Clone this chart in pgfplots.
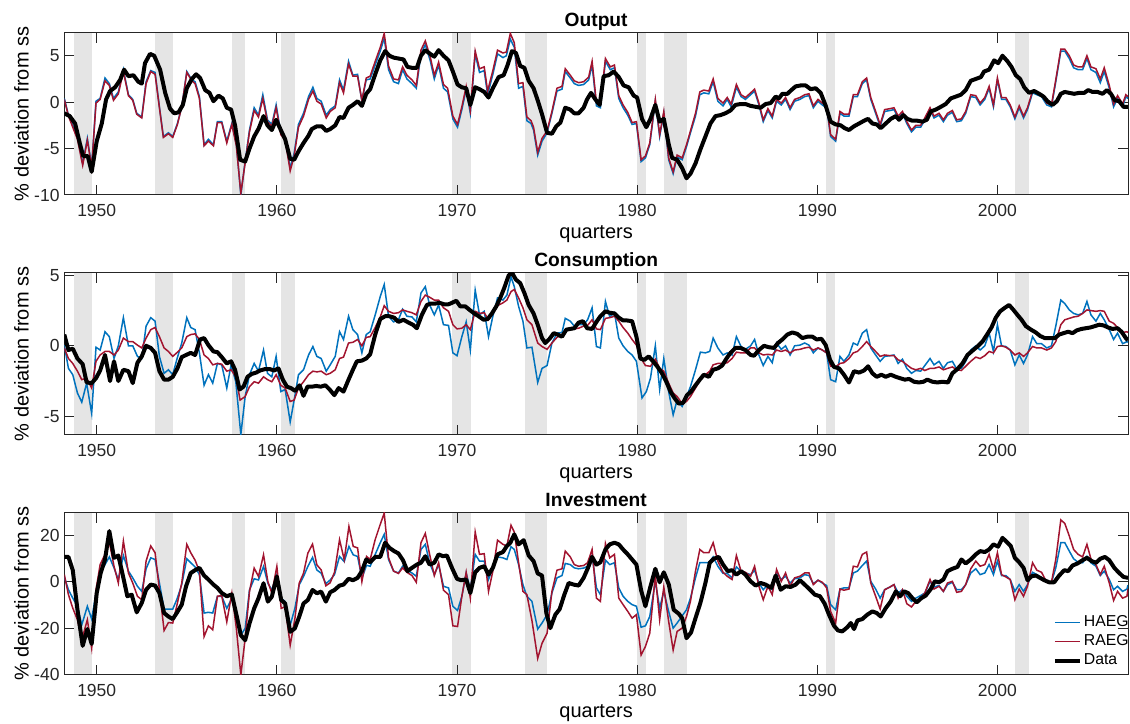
\documentclass[border=0pt]{standalone}
\usepackage{fontspec}
\setmainfont{Liberation Sans}
\usepackage{pgfplots}
\pgfplotsset{compat=1.18}

\definecolor{haeg}{rgb}{0,0.447,0.741}
\definecolor{raeg}{rgb}{0.635,0.078,0.184}
\definecolor{bandgray}{rgb}{0.9,0.9,0.9}
\definecolor{axgray}{rgb}{0.15,0.15,0.15}

% NBER recessions as grey bands, behind the lines
\newcommand{\recessions}[2]{%
  \begin{pgfonlayer}{axis background}
  \fill[bandgray] (axis cs:1948.75,#1) rectangle (axis cs:1949.75,#2);
  \fill[bandgray] (axis cs:1953.25,#1) rectangle (axis cs:1954.25,#2);
  \fill[bandgray] (axis cs:1957.5,#1) rectangle (axis cs:1958.25,#2);
  \fill[bandgray] (axis cs:1960.25,#1) rectangle (axis cs:1961,#2);
  \fill[bandgray] (axis cs:1969.75,#1) rectangle (axis cs:1970.75,#2);
  \fill[bandgray] (axis cs:1973.75,#1) rectangle (axis cs:1975,#2);
  \fill[bandgray] (axis cs:1980,#1) rectangle (axis cs:1980.5,#2);
  \fill[bandgray] (axis cs:1981.5,#1) rectangle (axis cs:1982.75,#2);
  \fill[bandgray] (axis cs:1990.5,#1) rectangle (axis cs:1991,#2);
  \fill[bandgray] (axis cs:2001,#1) rectangle (axis cs:2001.75,#2);
  \end{pgfonlayer}
}

\pgfplotsset{
  panel/.style={
    set layers,
    scale only axis, width=531.85pt, height=81pt, anchor=south west,
    xmin=1948.2, xmax=2007.25,
    xtick={1950,1960,1970,1980,1990,2000},
    xticklabels={1950,1960,1970,1980,1990,2000},
    tick align=inside, major tick length=5pt,
    axis line style={axgray, line width=0.5pt},
    every tick/.style={axgray, line width=0.5pt},
    tick label style={font=\fontsize{8.75}{10}\selectfont, text=axgray},
    xticklabel style={anchor=base, inner sep=0pt, yshift=-10.8pt},
    yticklabel style={anchor=east, inner sep=0pt, xshift=-2.2pt},
    label style={font=\fontsize{9.6}{11}\selectfont, text=axgray},
    every axis x label/.style={at={(axis description cs:0.5,0)}, anchor=base, yshift=-21.6pt},
    every axis y label/.style={at={(axis description cs:-0.0402,0.5)}, rotate=90, anchor=center},
    every axis title/.style={at={(axis description cs:0.5,1)}, anchor=base, yshift=3pt,
      font=\bfseries\fontsize{9.6}{11}\selectfont},
    xlabel={quarters}, ylabel={\% deviation from ss},
  },
  hline/.style={color=haeg, line width=0.75pt},
  rline/.style={color=raeg, line width=0.75pt},
  dline/.style={color=black, line width=2pt, line join=round},
}

\begin{document}
\begin{tikzpicture}

%% ---------------- Output ----------------
\begin{axis}[panel, at={(32.15pt,264pt)}, title={Output},
  ymin=-10, ymax=7.45, ytick={-10,-5,0,5}, yticklabels={-10,-5,0,5}]
\recessions{-10}{7.45}
\addplot[hline] coordinates {
(1948.2,0.4) (1948.43,-1.4) (1948.67,-2.5) (1948.93,-3.8) (1949.22,-6.6) (1949.48,-3.9) (1949.72,-6.9) (1949.96,0.1)
(1950.19,0.4) (1950.46,2.6) (1950.7,2.0) (1950.93,0.4) (1951.2,1.1) (1951.48,3.5) (1951.76,0.8) (1952.0,0.3)
(1952.22,-1.2) (1952.5,-1.6) (1952.74,2.2) (1953.0,3.4) (1953.24,3.2) (1953.48,-0.5) (1953.7,-3.7) (1953.98,-3.3)
(1954.22,-3.7) (1954.48,-2.3) (1954.72,-0.5) (1955.0,3.3) (1955.28,2.4) (1955.46,2.2) (1955.7,0.6) (1955.96,-4.6)
(1956.2,-4.0) (1956.48,-4.6) (1956.7,-2.1) (1956.94,-2.1) (1957.22,-4.2) (1957.5,-2.3) (1957.75,-4.5) (1958.0,-10.0)
(1958.25,-6.2) (1958.48,-3.0) (1958.74,-0.6) (1958.98,-1.4) (1959.22,0.8) (1959.48,-1.9) (1959.72,-2.4) (1959.96,-0.3)
(1960.22,-3.3) (1960.46,-3.9) (1960.74,-7.1) (1960.96,-5.5) (1961.2,-2.4) (1961.48,-1.2) (1961.76,0.6) (1962.0,1.6)
(1962.22,0.4) (1962.46,0.1) (1962.74,-1.4) (1962.96,-0.8) (1963.24,-0.4) (1963.48,2.4) (1963.7,1.3) (1963.98,4.4)
(1964.22,2.9) (1964.48,3.0) (1964.72,0.1) (1964.96,2.4)
(1965.18,2.5) (1965.46,4.0) (1965.74,5.5) (1965.96,6.9) (1966.2,3.5) (1966.48,2.2) (1966.75,2.0) (1966.98,3.5)
(1967.22,2.5) (1967.5,2.0) (1967.74,1.5) (1968.0,5.2) (1968.24,6.2) (1968.51,4.5) (1968.74,2.5) (1968.98,4.0)
(1969.25,1.5) (1969.48,1.1) (1969.77,-1.8) (1970.03,-2.7) (1970.27,-0.8) (1970.51,1.4) (1970.74,-1.2) (1971.01,5.2)
(1971.25,3.2) (1971.51,3.4) (1971.7,0.8) (1971.99,3.0) (1972.25,5.2) (1972.55,4.8) (1972.74,5.0) (1972.96,6.8)
(1973.18,5.9) (1973.42,1.5) (1973.66,1.7) (1973.88,-2.0) (1974.11,-2.3) (1974.25,-3.0) (1974.48,-5.7) (1974.72,-4.2)
(1975.0,-3.3) (1975.27,-1.2) (1975.55,1.2) (1975.83,1.4) (1976.01,3.3) (1976.29,2.6) (1976.51,2.0) (1976.75,1.8)
(1977.03,1.9) (1977.31,2.4) (1977.5,4.0) (1977.74,-0.4) (1977.96,-0.6) (1978.24,4.4) (1978.51,3.5) (1978.74,3.7)
(1978.98,0.4) (1979.22,-0.6) (1979.48,-1.4) (1979.72,-2.4) (1979.96,-2.3) (1980.22,-6.4) (1980.46,-6.0) (1980.7,-4.6)
(1981.01,0.1) (1981.25,-3.7) (1981.48,-1.2) (1981.75,-6.2) (1982.0,-7.7) (1982.22,-5.9) (1982.5,-6.2) (1982.74,-4.8)
(1982.96,-3.3) (1983.24,-1.5) (1983.48,0.8) (1983.7,1.0) (1983.98,0.9) (1984.22,2.2) (1984.48,0.1) (1984.77,-0.4)
(1985.0,0.3) (1985.22,-0.5) (1985.51,1.6) (1985.77,0.6) (1986.01,0.3)
(1986.3,0.8) (1986.52,1.2) (1986.76,-0.3) (1987.0,-2.1) (1987.26,-0.9) (1987.5,-1.7) (1987.74,0.1) (1988.0,-0.3)
(1988.24,0.3) (1988.49,-0.8) (1988.74,0.1) (1989.04,0.3) (1989.3,0.6) (1989.54,0.7) (1989.78,-0.6) (1990.04,0.1)
(1990.28,-0.3) (1990.52,-0.6) (1990.74,-3.7) (1991.02,-4.2) (1991.26,-1.2) (1991.48,-1.5) (1991.76,-1.5) (1992.0,0.6)
(1992.23,0.6) (1992.5,2.0) (1992.74,2.4) (1992.97,0.3) (1993.24,-1.2) (1993.49,-2.6) (1993.74,-1.0) (1994.04,-0.9)
(1994.26,-0.8) (1994.49,-1.7) (1994.73,-1.2) (1994.97,-2.3) (1995.23,-3.2) (1995.47,-2.7) (1995.74,-2.7) (1995.97,-1.9)
(1996.26,-0.8) (1996.48,-1.7) (1996.76,-1.4) (1997.0,-2.1) (1997.23,-1.4) (1997.5,-1.1) (1997.74,-2.1) (1998.0,-2.0)
(1998.24,-1.2) (1998.52,0.6) (1998.8,0.5) (1999.04,-0.3) (1999.3,0.3) (1999.54,1.5) (1999.78,-0.5) (2000.0,2.4)
(2000.23,0.3) (2000.47,0.3) (2000.71,-0.5) (2000.97,-1.8) (2001.21,-0.6) (2001.45,-1.7) (2001.67,-0.8) (2001.95,1.0)
(2002.19,0.8) (2002.45,0.6) (2002.74,-0.3) (2003.0,-0.5) (2003.24,2.2) (2003.52,5.5) (2003.74,5.5) (2003.99,4.7)
(2004.23,3.7) (2004.48,3.5) (2004.73,3.5) (2004.97,4.7) (2005.19,3.5) (2005.47,3.2) (2005.71,2.1) (2005.93,3.3)
(2006.21,1.5) (2006.45,-0.5) (2006.67,0.4) (2006.95,-0.5) (2007.13,0.6) (2007.25,0.4)
};
\addplot[rline] coordinates {
(1948.2,0.3) (1948.43,-1.5) (1948.67,-2.7) (1948.93,-4.0) (1949.22,-6.8) (1949.48,-4.1) (1949.72,-7.0) (1949.96,-0.1)
(1950.19,0.3) (1950.46,2.3) (1950.7,1.8) (1950.93,0.2) (1951.2,0.9) (1951.48,3.3) (1951.76,0.7) (1952.0,0.2)
(1952.22,-1.3) (1952.5,-1.7) (1952.74,2.0) (1953.0,3.3) (1953.24,3.0) (1953.48,-0.6) (1953.7,-3.8) (1953.98,-3.4)
(1954.22,-3.8) (1954.48,-2.4) (1954.72,-0.5) (1955.0,3.2) (1955.28,2.3) (1955.46,2.0) (1955.7,0.4) (1955.96,-4.7)
(1956.2,-4.2) (1956.48,-4.7) (1956.7,-2.2) (1956.94,-2.2) (1957.22,-4.4) (1957.5,-2.4) (1957.75,-4.7) (1958.0,-9.8)
(1958.25,-6.4) (1958.48,-3.2) (1958.74,-0.9) (1958.98,-1.6) (1959.22,0.4) (1959.48,-2.1) (1959.72,-2.6) (1959.96,-0.6)
(1960.22,-3.5) (1960.46,-4.1) (1960.74,-7.4) (1960.96,-5.8) (1961.2,-2.7) (1961.48,-1.5) (1961.76,0.3) (1962.0,1.2)
(1962.22,0.1) (1962.46,-0.2) (1962.74,-1.7) (1962.96,-1.0) (1963.24,-0.6) (1963.48,2.1) (1963.7,1.0) (1963.98,4.1)
(1964.22,2.8) (1964.48,2.8) (1964.72,0.2) (1964.96,2.6)
(1965.18,2.8) (1965.46,4.4) (1965.74,5.9) (1965.96,7.4) (1966.2,3.9) (1966.48,2.5) (1966.75,2.4) (1966.98,3.8)
(1967.22,2.9) (1967.5,2.4) (1967.74,1.8) (1968.0,5.6) (1968.24,6.6) (1968.51,4.9) (1968.74,2.9) (1968.98,4.3)
(1969.25,1.9) (1969.48,1.5) (1969.77,-1.5) (1970.03,-2.4) (1970.27,-0.5) (1970.51,1.7) (1970.74,-0.9) (1971.01,5.5)
(1971.25,3.6) (1971.51,3.8) (1971.7,1.2) (1971.99,3.4) (1972.25,5.6) (1972.55,5.3) (1972.74,5.4) (1972.96,7.4)
(1973.18,6.4) (1973.42,2.0) (1973.66,2.1) (1973.88,-1.6) (1974.11,-2.0) (1974.25,-2.7) (1974.48,-5.4) (1974.72,-3.9)
(1975.0,-3.1) (1975.27,-1.0) (1975.55,1.5) (1975.83,1.7) (1976.01,3.6) (1976.29,2.9) (1976.51,2.3) (1976.75,2.1)
(1977.03,2.2) (1977.31,2.7) (1977.5,4.4) (1977.74,-0.1) (1977.96,-0.3) (1978.24,4.7) (1978.51,3.8) (1978.74,4.0)
(1978.98,0.7) (1979.22,-0.3) (1979.48,-1.1) (1979.72,-2.2) (1979.96,-2.1) (1980.22,-6.2) (1980.46,-5.8) (1980.7,-4.4)
(1981.01,0.3) (1981.25,-3.5) (1981.48,-1.0) (1981.75,-6.0) (1982.0,-7.5) (1982.22,-5.7) (1982.5,-6.0) (1982.74,-4.6)
(1982.96,-3.1) (1983.24,-1.2) (1983.48,1.1) (1983.7,1.3) (1983.98,1.2) (1984.22,2.5) (1984.48,0.4) (1984.77,-0.1)
(1985.0,0.5) (1985.22,-0.2) (1985.51,1.9) (1985.77,0.8) (1986.01,0.5)
(1986.3,1.0) (1986.52,1.4) (1986.76,-0.1) (1987.0,-1.9) (1987.26,-0.7) (1987.5,-1.5) (1987.74,0.3) (1988.0,-0.1)
(1988.24,0.5) (1988.49,-0.6) (1988.74,0.3) (1989.04,0.5) (1989.3,0.8) (1989.54,0.9) (1989.78,-0.4) (1990.04,0.3)
(1990.28,-0.1) (1990.52,-0.4) (1990.74,-3.5) (1991.02,-4.0) (1991.26,-1.0) (1991.48,-1.3) (1991.76,-1.3) (1992.0,0.8)
(1992.23,0.8) (1992.5,2.2) (1992.74,2.6) (1992.97,0.5) (1993.24,-1.0) (1993.49,-2.4) (1993.74,-0.8) (1994.04,-0.7)
(1994.26,-0.6) (1994.49,-1.5) (1994.73,-1.0) (1994.97,-2.1) (1995.23,-3.0) (1995.47,-2.5) (1995.74,-2.5) (1995.97,-1.7)
(1996.26,-0.6) (1996.48,-1.5) (1996.76,-1.2) (1997.0,-1.9) (1997.23,-1.2) (1997.5,-0.9) (1997.74,-1.9) (1998.0,-1.8)
(1998.24,-1.0) (1998.52,0.8) (1998.8,0.7) (1999.04,-0.1) (1999.3,0.5) (1999.54,1.7) (1999.78,-0.3) (2000.0,2.6)
(2000.23,0.5) (2000.47,0.5) (2000.71,-0.3) (2000.97,-1.6) (2001.21,-0.4) (2001.45,-1.5) (2001.67,-0.6) (2001.95,1.2)
(2002.19,1.0) (2002.45,0.8) (2002.74,-0.1) (2003.0,-0.3) (2003.24,2.4) (2003.52,5.7) (2003.74,5.7) (2003.99,5.0)
(2004.23,4.0) (2004.48,3.8) (2004.73,3.8) (2004.97,5.0) (2005.19,3.8) (2005.47,3.6) (2005.71,2.5) (2005.93,3.7)
(2006.21,1.8) (2006.45,-0.2) (2006.67,0.7) (2006.95,-0.2) (2007.13,0.8) (2007.25,0.6)
};
\addplot[dline] coordinates {
(1948.2,-1.2) (1948.5,-1.5) (1948.8,-2.3) (1949.07,-4.5) (1949.25,-5.8) (1949.5,-5.8) (1949.72,-7.5) (1950.0,-4.2)
(1950.28,-2.3) (1950.52,0.3) (1950.74,1.2) (1951.02,1.6) (1951.3,2.4) (1951.52,3.5) (1951.76,2.8) (1952.04,2.9)
(1952.31,2.2) (1952.5,2.0) (1952.68,4.2) (1952.96,5.2) (1953.19,5.0) (1953.52,3.5) (1953.8,1.0) (1954.07,-0.7)
(1954.3,-1.2) (1954.54,-1.1) (1954.78,-0.3) (1955.0,1.5) (1955.28,2.5) (1955.52,3.0) (1955.74,2.6) (1956.02,1.3)
(1956.26,1.0) (1956.48,0.1) (1956.76,0.7) (1957.0,0.4) (1957.22,-0.6) (1957.46,-0.8) (1957.68,-2.5) (1957.96,-6.2)
(1958.24,-6.4) (1958.48,-5.0) (1958.74,-3.7) (1959.0,-2.8) (1959.26,-1.5) (1959.48,-2.5) (1959.72,-3.0) (1959.96,-1.9)
(1960.22,-3.0) (1960.46,-4.0) (1960.74,-6.1) (1960.96,-6.2) (1961.2,-5.3) (1961.48,-4.4) (1961.76,-3.6) (1961.94,-2.9)
(1962.22,-2.6) (1962.5,-2.6) (1962.74,-3.1) (1962.96,-2.9) (1963.24,-2.5) (1963.48,-1.6) (1963.7,-1.7) (1963.98,-0.6)
(1964.22,-0.3) (1964.48,0.1) (1964.72,-0.4) (1964.96,0.9)
(1965.18,1.4) (1965.46,3.0) (1965.74,4.5) (1966.01,5.5) (1966.25,5.0) (1966.48,4.8) (1966.75,4.7) (1967.03,4.6)
(1967.25,3.8) (1967.5,3.7) (1967.77,3.7) (1968.0,5.0) (1968.24,5.6) (1968.51,5.2) (1968.74,4.9) (1968.98,5.6)
(1969.25,5.0) (1969.53,4.5) (1969.77,3.3) (1970.03,1.9) (1970.27,1.6) (1970.51,1.5) (1970.74,-0.3) (1971.01,1.6)
(1971.25,1.4) (1971.51,1.1) (1971.75,0.5) (1971.99,1.5) (1972.31,2.7) (1972.59,2.9) (1972.81,4.0) (1973.05,5.5)
(1973.27,5.3) (1973.51,3.9) (1973.74,3.7) (1973.98,2.3) (1974.25,1.5) (1974.48,0.2) (1974.72,-1.3) (1975.0,-3.3)
(1975.27,-3.4) (1975.51,-2.6) (1975.74,-2.2) (1976.01,-0.6) (1976.29,-0.8) (1976.51,-1.2) (1976.75,-1.2) (1977.03,-0.6)
(1977.22,0.3) (1977.44,1.0) (1977.68,0.3) (1977.92,-0.3) (1978.14,2.8) (1978.42,2.9) (1978.7,3.3) (1978.98,2.7)
(1979.25,1.8) (1979.53,1.6) (1979.81,0.7) (1980.0,0.5) (1980.27,-1.8) (1980.51,-2.7) (1980.74,-1.8) (1981.01,-0.3)
(1981.25,-2.1) (1981.48,-1.8) (1981.75,-4.5) (1981.94,-6.0) (1982.22,-6.2) (1982.5,-7.1) (1982.74,-8.2) (1982.96,-7.7)
(1983.24,-6.6) (1983.51,-5.1) (1983.79,-3.7) (1984.07,-2.3) (1984.35,-1.5) (1984.62,-1.4) (1984.9,-1.2) (1985.18,-0.9)
(1985.46,-0.3) (1985.74,-0.2) (1986.01,-0.2)
(1986.3,-0.4) (1986.58,-0.5) (1986.86,-0.6) (1987.13,-0.2) (1987.41,-0.1) (1987.69,0.6) (1987.87,0.4) (1988.06,0.9)
(1988.34,0.9) (1988.56,1.3) (1988.8,1.7) (1989.08,1.8) (1989.36,1.8) (1989.63,1.4) (1989.91,1.5) (1990.19,1.0)
(1990.47,-0.4) (1990.74,-2.1) (1991.02,-2.4) (1991.3,-2.5) (1991.52,-2.8) (1991.76,-3.0) (1992.04,-2.6) (1992.32,-2.3)
(1992.6,-2.0) (1992.82,-1.8) (1993.06,-2.3) (1993.3,-2.4) (1993.52,-2.8) (1993.8,-2.3) (1994.08,-1.8) (1994.36,-1.5)
(1994.54,-1.9) (1994.78,-1.4) (1995.0,-1.8) (1995.28,-2.0) (1995.56,-2.0) (1995.84,-2.1) (1996.08,-1.9) (1996.3,-1.0)
(1996.58,-0.8) (1996.86,-0.5) (1997.13,-0.2) (1997.41,0.4) (1997.69,0.6) (1997.97,0.8) (1998.24,1.3) (1998.52,2.3)
(1998.8,2.5) (1999.08,2.7) (1999.26,3.3) (1999.54,3.5) (1999.82,4.5) (2000.04,4.2) (2000.28,5.0) (2000.56,4.4)
(2000.78,3.8) (2001.02,2.9) (2001.26,2.5) (2001.49,1.6) (2001.76,1.0) (2002.04,1.2) (2002.32,0.9) (2002.56,0.6)
(2002.78,0.1) (2003.06,-0.3) (2003.3,0.1) (2003.52,0.9) (2003.74,1.1) (2003.99,1.0) (2004.26,0.9) (2004.54,1.0)
(2004.82,1.0) (2005.04,1.3) (2005.28,1.1) (2005.56,1.1) (2005.84,0.9) (2006.08,1.3) (2006.3,0.9) (2006.52,0.2)
(2006.76,0.1) (2007.0,-0.5) (2007.25,-0.5)
};
\end{axis}

%% ---------------- Consumption ----------------
\begin{axis}[panel, at={(32.15pt,144pt)}, title={Consumption},
  ymin=-6.33, ymax=5.17, ytick={-5,0,5}, yticklabels={-5,0,5}]
\recessions{-6.33}{5.17}
\addplot[hline] coordinates {
(1948.2,0.05) (1948.43,-1.6) (1948.67,-2.05) (1948.93,-3.35) (1949.17,-4.0) (1949.44,-2.65) (1949.72,-4.8) (1949.96,-0.1)
(1950.19,-0.3) (1950.46,1.0) (1950.7,0.65) (1950.96,-0.9) (1951.2,0.0) (1951.48,2.0) (1951.76,0.0) (1952.0,0.0)
(1952.26,-0.75) (1952.5,-0.9) (1952.74,1.4) (1953.0,2.0) (1953.24,1.75) (1953.48,-0.75) (1953.74,-1.95) (1953.98,-1.7)
(1954.22,-2.05) (1954.44,-1.0) (1954.72,0.2) (1955.0,2.0) (1955.22,1.3) (1955.46,1.15) (1955.7,-0.5) (1955.96,-2.8)
(1956.2,-2.05) (1956.44,-2.65) (1956.7,-1.25) (1956.94,-1.35) (1957.22,-3.0) (1957.46,-1.35) (1957.72,-2.55) (1958.0,-6.3)
(1958.24,-3.6) (1958.48,-2.05) (1958.74,-1.25) (1958.98,-1.8) (1959.26,-0.3) (1959.48,-1.95) (1959.72,-2.2) (1959.96,-0.75)
(1960.22,-3.25) (1960.46,-3.1) (1960.74,-5.4) (1960.96,-3.85) (1961.2,-2.05) (1961.48,-1.7) (1961.76,-0.65) (1962.0,-0.05)
(1962.22,-0.75) (1962.46,-0.9) (1962.74,-1.8) (1962.96,-1.35) (1963.24,-0.75) (1963.48,1.0) (1963.7,0.45) (1963.98,2.1)
(1964.22,1.15) (1964.48,0.8) (1964.72,-0.5) (1964.96,0.8)
(1965.18,1.0) (1965.46,2.2) (1965.74,3.5) (1965.96,4.35) (1966.2,2.1) (1966.48,1.7) (1966.75,1.85) (1966.98,2.6)
(1967.22,2.1) (1967.5,2.05) (1967.74,1.7) (1968.0,3.75) (1968.24,4.2) (1968.48,2.9) (1968.74,2.2) (1968.98,2.9)
(1969.25,1.5) (1969.53,1.45) (1969.77,-0.5) (1970.0,-0.7) (1970.27,0.65) (1970.51,1.7) (1970.74,-0.3) (1971.01,3.95)
(1971.25,2.2) (1971.51,2.45) (1971.75,0.65) (1971.99,2.1) (1972.25,3.4) (1972.55,3.25) (1972.77,3.6) (1973.0,4.9)
(1973.18,4.2) (1973.42,2.8) (1973.66,1.75) (1973.88,-0.15) (1974.16,-0.1) (1974.48,-2.6) (1974.72,-1.6) (1975.0,-1.4)
(1975.27,0.2) (1975.55,0.9) (1975.83,0.95) (1976.01,1.95) (1976.29,1.75) (1976.51,1.4) (1976.75,1.5) (1977.03,1.5)
(1977.25,1.85) (1977.5,2.7) (1977.74,-0.05) (1977.96,-0.15) (1978.24,3.15) (1978.48,2.05) (1978.74,2.35) (1978.98,0.55)
(1979.22,0.0) (1979.48,-0.4) (1979.72,-0.65) (1979.96,-1.1) (1980.27,-3.7) (1980.51,-3.25) (1980.74,-2.3) (1981.01,0.0)
(1981.25,-3.1) (1981.48,-0.9) (1981.75,-3.25) (1982.0,-4.9) (1982.22,-3.85) (1982.5,-4.3) (1982.74,-3.6) (1982.96,-2.9)
(1983.24,-1.7) (1983.51,-0.45) (1983.79,-0.5) (1984.03,-0.4) (1984.22,0.55) (1984.48,-0.15) (1984.77,-0.65) (1985.0,-0.5)
(1985.27,-0.65) (1985.51,0.65) (1985.77,-0.05) (1986.01,-0.25)
(1986.3,0.0) (1986.52,0.45) (1986.76,-0.65) (1987.0,-1.4) (1987.26,-0.75) (1987.5,-1.2) (1987.74,0.2) (1988.0,-0.25)
(1988.24,0.0) (1988.49,-0.65) (1988.74,0.0) (1989.04,0.05) (1989.3,0.2) (1989.54,0.05) (1989.78,-0.5) (1990.04,-0.15)
(1990.28,-0.3) (1990.52,-0.5) (1990.74,-2.4) (1991.02,-2.55) (1991.26,-0.75) (1991.48,-1.1) (1991.76,-0.65) (1992.0,0.2)
(1992.23,0.05) (1992.5,0.9) (1992.74,1.15) (1992.97,-0.15) (1993.24,-0.65) (1993.49,-1.1) (1993.74,-0.75) (1994.04,-0.7)
(1994.26,-0.65) (1994.49,-1.25) (1994.73,-0.95) (1994.97,-1.6) (1995.23,-1.95) (1995.47,-1.75) (1995.74,-1.8) (1995.97,-1.4)
(1996.26,-0.9) (1996.48,-1.35) (1996.76,-1.1) (1997.0,-1.6) (1997.23,-1.2) (1997.5,-1.1) (1997.74,-1.65) (1998.0,-1.6)
(1998.24,-1.1) (1998.52,-0.3) (1998.8,0.0) (1999.04,-0.3) (1999.3,0.0) (1999.54,0.9) (1999.78,-0.4) (2000.0,1.5)
(2000.23,0.0) (2000.47,-0.05) (2000.71,-0.3) (2000.97,-1.35) (2001.21,-0.65) (2001.45,-1.25) (2001.67,-0.65) (2001.95,0.65)
(2002.19,0.15) (2002.45,0.15) (2002.74,-0.15) (2003.0,0.0) (2003.24,1.4) (2003.52,3.25) (2003.74,3.0) (2003.99,2.55)
(2004.23,2.3) (2004.48,2.2) (2004.73,2.3) (2004.97,3.15) (2005.19,2.2) (2005.47,1.75) (2005.71,2.3) (2005.93,1.85)
(2006.21,1.15) (2006.45,0.45) (2006.67,0.9) (2006.95,0.15) (2007.19,0.3) (2007.25,0.25)
};
\addplot[rline] coordinates {
(1948.2,-0.15) (1948.43,-0.9) (1948.67,-1.25) (1948.93,-1.8) (1949.17,-2.4) (1949.44,-2.3) (1949.72,-3.0) (1949.96,-1.1)
(1950.19,-0.65) (1950.46,-0.4) (1950.7,-0.4) (1950.96,-0.65) (1951.2,-0.3) (1951.48,0.55) (1951.76,0.3) (1952.0,0.3)
(1952.26,0.05) (1952.5,-0.15) (1952.74,0.55) (1953.0,1.15) (1953.24,1.3) (1953.48,0.65) (1953.74,-0.15) (1953.98,-0.4)
(1954.22,-0.75) (1954.44,-0.5) (1954.72,-0.15) (1955.0,0.65) (1955.22,0.8) (1955.46,0.85) (1955.7,0.45) (1955.96,-0.65)
(1956.2,-0.9) (1956.44,-1.35) (1956.7,-1.25) (1956.94,-1.3) (1957.22,-1.8) (1957.46,-1.7) (1957.72,-2.2) (1957.96,-3.85)
(1958.24,-3.6) (1958.48,-2.9) (1958.74,-2.55) (1958.98,-2.65) (1959.26,-2.2) (1959.48,-2.4) (1959.72,-2.55) (1959.96,-2.05)
(1960.22,-2.8) (1960.46,-3.0) (1960.74,-3.95) (1960.96,-3.85) (1961.2,-3.0) (1961.48,-2.55) (1961.76,-2.05) (1962.0,-1.8)
(1962.22,-1.85) (1962.46,-1.8) (1962.74,-2.05) (1962.96,-1.95) (1963.24,-1.7) (1963.48,-0.9) (1963.7,-0.8) (1963.98,0.2)
(1964.22,0.25) (1964.48,0.45) (1964.72,0.0) (1964.96,0.6)
(1965.18,0.65) (1965.46,1.3) (1965.74,2.05) (1965.96,2.85) (1966.2,2.45) (1966.48,2.3) (1966.75,2.35) (1966.98,2.55)
(1967.22,2.45) (1967.5,2.35) (1967.74,2.2) (1968.0,3.15) (1968.24,3.6) (1968.48,3.45) (1968.74,3.25) (1968.98,3.25)
(1969.25,2.7) (1969.53,2.45) (1969.77,1.5) (1970.0,1.2) (1970.27,1.25) (1970.51,1.5) (1970.74,1.15) (1971.01,2.45)
(1971.25,2.3) (1971.51,2.35) (1971.75,1.85) (1971.99,2.3) (1972.25,2.85) (1972.55,3.05) (1972.77,3.25) (1973.0,3.85)
(1973.18,4.0) (1973.42,3.4) (1973.66,2.7) (1973.88,1.85) (1974.16,1.5) (1974.48,0.2) (1974.72,-0.05) (1975.0,-0.25)
(1975.27,0.2) (1975.55,0.6) (1975.83,0.8) (1976.01,1.1) (1976.29,1.15) (1976.51,1.2) (1976.75,1.25) (1977.03,1.4)
(1977.25,1.45) (1977.5,1.85) (1977.74,1.2) (1977.96,1.15) (1978.24,1.95) (1978.48,2.0) (1978.74,2.1) (1978.98,1.75)
(1979.22,1.3) (1979.48,0.9) (1979.72,0.45) (1979.96,0.05) (1980.22,-0.9) (1980.46,-1.4) (1980.74,-1.45) (1981.01,-0.95)
(1981.25,-1.6) (1981.48,-1.8) (1981.75,-2.65) (1982.0,-3.35) (1982.22,-3.6) (1982.5,-4.1) (1982.74,-3.95) (1982.96,-3.6)
(1983.24,-3.0) (1983.51,-2.4) (1983.79,-2.05) (1984.03,-1.8) (1984.22,-1.35) (1984.48,-1.25) (1984.77,-1.25) (1985.0,-1.2)
(1985.27,-0.9) (1985.51,-0.45) (1985.77,-0.5) (1986.01,-0.5)
(1986.3,-0.15) (1986.52,-0.15) (1986.76,-0.5) (1987.0,-0.65) (1987.26,-0.6) (1987.5,-0.65) (1987.74,-0.3) (1988.0,-0.4)
(1988.24,-0.3) (1988.49,-0.5) (1988.74,-0.3) (1989.04,-0.25) (1989.3,-0.15) (1989.54,-0.1) (1989.78,-0.3) (1990.04,-0.15)
(1990.28,-0.3) (1990.52,-0.5) (1990.74,-1.45) (1991.02,-1.5) (1991.26,-1.25) (1991.48,-1.2) (1991.76,-0.9) (1992.0,-0.5)
(1992.23,-0.4) (1992.5,-0.05) (1992.74,0.3) (1992.97,-0.05) (1993.24,-0.4) (1993.49,-0.75) (1993.74,-0.65) (1994.04,-0.7)
(1994.26,-0.7) (1994.49,-1.0) (1994.73,-1.1) (1994.97,-1.35) (1995.23,-1.6) (1995.47,-1.7) (1995.74,-1.6) (1995.97,-1.75)
(1996.26,-1.6) (1996.48,-1.6) (1996.76,-1.5) (1997.0,-1.7) (1997.23,-1.6) (1997.5,-1.5) (1997.74,-1.7) (1998.0,-1.75)
(1998.24,-1.45) (1998.52,-1.1) (1998.8,-0.8) (1999.04,-0.9) (1999.3,-0.7) (1999.54,-0.4) (1999.78,-0.5) (2000.0,-0.05)
(2000.23,0.0) (2000.47,-0.1) (2000.71,-0.3) (2000.97,-0.65) (2001.21,-0.5) (2001.45,-0.75) (2001.67,-0.5) (2001.95,-0.05)
(2002.19,-0.15) (2002.45,-0.15) (2002.74,-0.3) (2003.0,-0.15) (2003.24,0.3) (2003.52,1.5) (2003.74,1.85) (2003.99,1.95)
(2004.23,2.05) (2004.48,2.1) (2004.73,2.3) (2004.97,2.55) (2005.19,2.5) (2005.47,2.45) (2005.71,2.5) (2005.93,2.45)
(2006.21,1.75) (2006.45,1.6) (2006.67,1.3) (2006.95,0.95) (2007.19,1.0) (2007.25,0.95)
};
\addplot[dline] coordinates {
(1948.2,0.8) (1948.43,-0.3) (1948.67,-0.2) (1948.93,-0.9) (1949.22,-1.3) (1949.44,-2.6) (1949.72,-2.65) (1949.96,-2.3)
(1950.19,-1.75) (1950.46,-0.65) (1950.74,-2.5) (1950.96,-1.1) (1951.2,-2.5) (1951.48,-1.7) (1951.76,-1.8) (1952.0,-2.65)
(1952.26,-1.2) (1952.5,-0.75) (1952.74,0.0) (1953.0,-0.15) (1953.24,-0.5) (1953.48,-1.8) (1953.74,-2.4) (1953.98,-2.4)
(1954.22,-2.2) (1954.48,-1.6) (1954.72,-0.8) (1954.96,-0.65) (1955.22,-0.5) (1955.46,-0.65) (1955.74,0.45) (1955.96,0.55)
(1956.2,0.05) (1956.48,-0.4) (1956.7,-0.45) (1956.94,-0.8) (1957.22,-1.25) (1957.46,-1.1) (1957.68,-1.7) (1957.93,-3.1)
(1958.15,-2.9) (1958.37,-2.2) (1958.6,-2.0) (1958.85,-1.9) (1959.07,-1.75) (1959.35,-1.65) (1959.6,-1.65) (1959.85,-1.75)
(1960.09,-1.6) (1960.33,-2.4) (1960.56,-2.9) (1960.78,-3.0) (1961.02,-3.2) (1961.26,-2.8) (1961.48,-3.55) (1961.7,-2.9)
(1961.94,-2.9) (1962.19,-2.85) (1962.44,-2.9) (1962.69,-2.8) (1962.93,-3.1) (1963.19,-3.5) (1963.43,-3.0) (1963.7,-3.25)
(1963.98,-2.4) (1964.22,-1.7) (1964.44,-1.1) (1964.72,-1.05) (1964.96,-0.9)
(1965.18,-0.6) (1965.46,0.8) (1965.74,1.9) (1966.01,2.1) (1966.25,2.1) (1966.51,2.0) (1966.75,1.7) (1967.03,1.85)
(1967.31,1.65) (1967.55,1.5) (1967.77,1.25) (1968.05,2.2) (1968.33,2.9) (1968.55,3.0) (1968.79,3.0) (1969.03,3.05)
(1969.29,2.95) (1969.53,2.95) (1969.72,3.05) (1969.96,3.2) (1970.18,2.8) (1970.46,2.8) (1970.7,2.55) (1970.96,2.3)
(1971.2,2.1) (1971.48,1.85) (1971.7,1.9) (1971.94,2.3) (1972.18,2.8) (1972.4,3.4) (1972.62,4.1) (1972.87,5.0)
(1973.05,5.2) (1973.27,4.7) (1973.51,4.45) (1973.74,3.75) (1973.98,2.9) (1974.25,2.3) (1974.48,1.5) (1974.72,0.55)
(1974.9,0.2) (1975.14,0.5) (1975.37,0.9) (1975.59,0.8) (1975.83,0.65) (1976.07,1.15) (1976.29,1.2) (1976.51,1.25)
(1976.75,1.65) (1976.99,1.75) (1977.22,1.25) (1977.5,1.2) (1977.74,1.7) (1977.96,2.1) (1978.24,2.45) (1978.48,2.35)
(1978.74,2.3) (1978.98,2.0) (1979.22,1.8) (1979.44,1.8) (1979.72,1.75) (1979.96,0.65) (1980.18,-0.9) (1980.4,-1.0)
(1980.64,-0.75) (1980.88,-1.1) (1981.11,-1.45) (1981.38,-1.95) (1981.62,-2.55) (1981.85,-3.25) (1982.07,-3.7) (1982.31,-4.1)
(1982.55,-4.05) (1982.77,-3.5) (1982.99,-3.25) (1983.24,-2.8) (1983.48,-2.4) (1983.7,-2.05) (1983.98,-2.2) (1984.22,-1.7)
(1984.48,-1.6) (1984.72,-1.4) (1984.96,-0.9) (1985.18,-0.5) (1985.46,-0.15) (1985.74,-0.15) (1986.01,-0.3)
(1986.3,-0.65) (1986.49,-0.7) (1986.76,-0.3) (1987.04,0.0) (1987.32,-0.1) (1987.6,-0.15) (1987.82,0.2) (1988.06,0.45)
(1988.34,0.8) (1988.61,0.95) (1988.89,0.85) (1989.17,0.55) (1989.45,0.65) (1989.73,0.65) (1989.97,0.45) (1990.23,0.5)
(1990.47,0.05) (1990.71,-1.0) (1990.93,-1.5) (1991.21,-1.6) (1991.48,-2.05) (1991.76,-2.6) (1992.04,-1.8) (1992.32,-1.9)
(1992.6,-1.75) (1992.82,-1.45) (1993.06,-1.95) (1993.3,-2.2) (1993.56,-2.05) (1993.8,-2.2) (1994.08,-2.05) (1994.36,-2.2)
(1994.6,-2.3) (1994.86,-2.4) (1995.1,-2.35) (1995.37,-2.55) (1995.65,-2.6) (1995.89,-2.55) (1996.11,-2.4) (1996.39,-2.55)
(1996.67,-2.6) (1996.95,-2.55) (1997.26,-2.6) (1997.5,-1.95) (1997.78,-1.65) (1998.06,-1.25) (1998.34,-0.65) (1998.61,-0.35)
(1998.89,-0.05) (1999.17,0.3) (1999.45,0.85) (1999.67,1.3) (1999.91,2.0) (2000.15,2.45) (2000.41,2.7) (2000.65,2.9)
(2000.89,2.55) (2001.11,2.2) (2001.34,1.85) (2001.58,1.4) (2001.86,1.15) (2002.13,0.95) (2002.37,0.7) (2002.63,0.55)
(2002.93,0.55) (2003.19,0.55) (2003.43,0.8) (2003.67,0.9) (2003.93,1.0) (2004.17,0.9) (2004.41,1.1) (2004.67,1.2)
(2004.91,1.25) (2005.15,1.3) (2005.41,1.4) (2005.65,1.5) (2005.89,1.45) (2006.15,1.3) (2006.39,1.2) (2006.67,1.25)
(2006.89,1.0) (2007.13,0.55) (2007.25,0.4)
};
\end{axis}

%% ---------------- Investment ----------------
\begin{axis}[panel, at={(32.15pt,24.15pt)}, title={Investment},
  ymin=-40, ymax=29.6, ytick={-40,-20,0,20}, yticklabels={-40,-20,0,20},
  legend style={draw=none, fill=none, at={(axis description cs:0.929,0.381)}, anchor=north west,
    font=\fontsize{7.9}{9}\selectfont, row sep=0.6pt, inner sep=0pt,
    nodes={inner sep=1pt, text=black}},
  legend cell align=left,
  legend image code/.code={\draw[#1] (0pt,0pt) -- (12.5pt,0pt);}]
\recessions{-40}{29.6}
\addplot[hline] coordinates {
(1948.2,2.0) (1948.43,-3.5) (1948.67,-7.1) (1948.93,-10.6) (1949.17,-18.6) (1949.48,-10.6) (1949.72,-16.1) (1949.96,-4.9)
(1950.19,3.7) (1950.46,7.3) (1950.7,10.6) (1950.96,5.9) (1951.2,0.9) (1951.48,11.2) (1951.76,4.5) (1952.0,1.6)
(1952.26,-2.0) (1952.5,-4.2) (1952.74,5.5) (1953.0,10.2) (1953.24,9.5) (1953.48,-0.6) (1953.74,-11.8) (1953.98,-11.8)
(1954.22,-11.8) (1954.44,-7.8) (1954.72,-1.3) (1955.0,9.8) (1955.22,8.1) (1955.46,6.3) (1955.7,3.0) (1955.96,-13.5)
(1956.2,-13.2) (1956.44,-13.5) (1956.7,-6.3) (1956.94,-6.3) (1957.22,-11.5) (1957.5,-7.2) (1957.75,-14.4) (1958.0,-23.0)
(1958.24,-20.1) (1958.48,-3.6) (1958.74,1.2) (1958.98,0.7) (1959.26,6.5) (1959.5,-0.7) (1959.72,-3.6) (1960.0,2.9)
(1960.24,-7.2) (1960.46,-8.6) (1960.74,-18.7) (1961.0,-11.5) (1961.24,-1.4) (1961.48,2.2) (1961.72,6.5) (1961.98,10.4)
(1962.22,5.0) (1962.46,3.6) (1962.72,-0.9) (1962.96,0.7) (1963.2,3.0) (1963.48,10.8) (1963.74,8.6) (1964.0,15.1)
(1964.24,11.5) (1964.48,10.8) (1964.72,1.5) (1964.98,7.0)
(1965.18,6.6) (1965.46,11.7) (1965.74,16.7) (1965.96,20.3) (1966.2,9.5) (1966.48,4.5) (1966.75,3.7) (1966.98,6.6)
(1967.22,4.9) (1967.5,3.7) (1967.74,2.3) (1968.0,13.8) (1968.24,16.0) (1968.48,8.1) (1968.74,3.0) (1968.98,7.3)
(1969.25,-2.0) (1969.53,-2.7) (1969.77,-10.6) (1970.03,-12.4) (1970.27,-6.3) (1970.51,3.7) (1970.74,-3.5) (1971.01,11.7)
(1971.25,8.8) (1971.51,8.8) (1971.75,0.9) (1971.99,5.9) (1972.25,10.6) (1972.55,10.2) (1972.77,9.5) (1973.0,15.0)
(1973.18,13.8) (1973.42,7.3) (1973.66,-1.3) (1973.88,-6.3) (1974.16,-8.5) (1974.48,-20.4) (1974.72,-17.8) (1975.0,-14.2)
(1975.27,-4.9) (1975.55,1.6) (1975.83,2.6) (1976.01,7.8) (1976.29,7.3) (1976.51,5.9) (1976.75,5.5) (1977.03,5.8)
(1977.25,6.6) (1977.5,11.2) (1977.74,-2.7) (1977.96,-5.6) (1978.24,9.2) (1978.48,7.3) (1978.74,8.1) (1978.98,-2.7)
(1979.22,-6.3) (1979.48,-8.5) (1979.72,-9.9) (1979.96,-10.6) (1980.22,-19.6) (1980.46,-19.0) (1980.7,-15.0) (1981.01,0.1)
(1981.25,-11.4) (1981.48,-4.2) (1981.75,-12.8) (1982.0,-20.0) (1982.22,-17.8) (1982.5,-14.7) (1982.74,-12.1) (1982.96,-7.1)
(1983.24,1.6) (1983.48,8.1) (1983.7,8.1) (1983.98,8.1) (1984.22,10.6) (1984.48,6.6) (1984.77,3.5) (1985.0,3.5)
(1985.27,1.6) (1985.51,6.3) (1985.77,4.5) (1986.01,3.7)
(1986.3,3.0) (1986.52,4.9) (1986.76,-0.6) (1987.0,-3.5) (1987.26,-1.3) (1987.5,-3.5) (1987.74,4.0) (1988.0,0.9)
(1988.24,2.3) (1988.49,-0.6) (1988.74,1.2) (1989.04,1.6) (1989.3,3.0) (1989.54,2.6) (1989.78,-0.9) (1990.04,0.6)
(1990.28,-0.6) (1990.52,-1.7) (1990.74,-9.9) (1991.02,-12.1) (1991.26,-3.2) (1991.48,-2.7) (1991.76,-2.7) (1992.0,3.7)
(1992.23,4.5) (1992.5,6.9) (1992.74,8.8) (1992.97,0.1) (1993.24,-3.2) (1993.49,-7.1) (1993.74,-3.5) (1994.04,-2.3)
(1994.26,-1.3) (1994.49,-4.9) (1994.73,-3.5) (1994.97,-6.3) (1995.23,-8.5) (1995.47,-7.1) (1995.74,-6.0) (1995.97,-4.9)
(1996.26,0.1) (1996.48,-2.3) (1996.76,-1.7) (1997.0,-4.2) (1997.23,-1.3) (1997.5,-0.3) (1997.74,-3.5) (1998.0,-3.5)
(1998.24,-1.3) (1998.52,3.7) (1998.8,5.5) (1999.04,3.0) (1999.3,3.7) (1999.54,7.3) (1999.78,3.0) (2000.0,8.8)
(2000.23,2.6) (2000.47,2.6) (2000.71,0.9) (2000.97,-4.2) (2001.21,-1.3) (2001.45,-4.2) (2001.67,-1.3) (2001.95,4.0)
(2002.19,3.0) (2002.45,1.6) (2002.74,0.1) (2003.0,-0.3) (2003.24,5.9) (2003.52,16.7) (2003.74,16.7) (2003.99,13.1)
(2004.23,9.8) (2004.48,8.3) (2004.73,8.1) (2004.97,10.9) (2005.19,8.1) (2005.47,6.6) (2005.71,2.6) (2005.93,4.5)
(2006.21,0.9) (2006.45,-3.5) (2006.67,-2.0) (2006.95,-4.2) (2007.19,-3.2) (2007.25,-1.5)
};
\addlegendentry{HAEG}
\addplot[rline] coordinates {
(1948.2,3.0) (1948.43,-5.6) (1948.67,-11.4) (1948.93,-16.4) (1949.17,-25.0) (1949.48,-16.4) (1949.72,-28.6) (1949.96,-3.5)
(1950.19,7.3) (1950.46,11.7) (1950.7,17.0) (1950.96,6.6) (1951.2,-0.6) (1951.48,17.4) (1951.76,3.7) (1952.0,-0.6)
(1952.26,-6.3) (1952.5,-7.8) (1952.74,8.8) (1953.0,15.3) (1953.24,12.4) (1953.48,-3.5) (1953.74,-21.0) (1953.98,-17.6)
(1954.22,-17.8) (1954.44,-10.6) (1954.72,-0.6) (1955.0,16.0) (1955.22,12.4) (1955.46,9.2) (1955.7,4.5) (1955.96,-23.6)
(1956.2,-19.0) (1956.44,-20.7) (1956.7,-6.3) (1956.94,-6.0) (1957.22,-17.3) (1957.5,-5.0) (1957.75,-20.0) (1958.0,-40.1)
(1958.24,-24.5) (1958.48,-4.3) (1958.74,5.8) (1958.98,2.2) (1959.26,11.5) (1959.5,0.0) (1959.72,-5.0) (1960.0,6.5)
(1960.24,-11.5) (1960.46,-10.8) (1960.74,-27.3) (1961.0,-16.0) (1961.24,-0.7) (1961.48,3.6) (1961.72,12.2) (1961.98,16.1)
(1962.22,7.2) (1962.46,5.0) (1962.72,-1.8) (1962.96,-0.5) (1963.2,4.0) (1963.48,18.0) (1963.74,9.4) (1964.0,23.7)
(1964.24,15.1) (1964.48,14.5) (1964.72,0.0) (1964.98,10.8)
(1965.18,9.5) (1965.46,18.1) (1965.74,24.6) (1965.96,29.4) (1966.2,10.2) (1966.48,4.5) (1966.75,3.5) (1966.98,5.9)
(1967.22,4.0) (1967.5,2.6) (1967.74,-0.3) (1968.0,16.7) (1968.24,20.7) (1968.48,11.7) (1968.74,2.6) (1968.98,8.1)
(1969.25,-3.7) (1969.53,-5.6) (1969.77,-19.0) (1970.03,-19.3) (1970.27,-6.3) (1970.51,4.0) (1970.74,-7.1) (1971.01,21.3)
(1971.25,11.7) (1971.51,12.0) (1971.75,-4.2) (1971.99,4.5) (1972.25,17.8) (1972.55,16.0) (1972.77,15.3) (1973.0,24.2)
(1973.18,21.3) (1973.42,8.1) (1973.66,-4.2) (1973.88,-5.6) (1974.16,-16.7) (1974.48,-33.0) (1974.72,-26.5) (1975.0,-22.2)
(1975.27,-4.2) (1975.55,4.9) (1975.83,5.5) (1976.01,13.1) (1976.29,10.6) (1976.51,7.3) (1976.75,6.6) (1977.03,6.9)
(1977.25,8.1) (1977.5,13.8) (1977.74,-7.1) (1977.96,-8.5) (1978.24,16.4) (1978.48,10.2) (1978.74,11.7) (1978.98,-7.1)
(1979.22,-9.9) (1979.48,-12.8) (1979.72,-15.7) (1979.96,-14.2) (1980.22,-31.5) (1980.46,-27.9) (1980.7,-22.2) (1981.01,2.6)
(1981.25,-16.4) (1981.48,-2.3) (1981.75,-17.1) (1982.0,-29.4) (1982.22,-21.4) (1982.5,-20.0) (1982.74,-15.0) (1982.96,-8.5)
(1983.24,4.5) (1983.48,13.8) (1983.7,12.4) (1983.98,12.4) (1984.22,16.7) (1984.48,8.8) (1984.77,4.0) (1985.0,2.3)
(1985.27,0.9) (1985.51,11.2) (1985.77,4.5) (1986.01,4.0)
(1986.3,2.3) (1986.52,6.6) (1986.76,-2.0) (1987.0,-7.8) (1987.26,-2.0) (1987.5,-5.6) (1987.74,5.2) (1988.0,0.1)
(1988.24,3.7) (1988.49,-2.0) (1988.74,1.6) (1989.04,2.3) (1989.3,3.7) (1989.54,3.7) (1989.78,-1.3) (1990.04,0.6)
(1990.28,-0.3) (1990.52,-2.7) (1990.74,-12.8) (1991.02,-17.8) (1991.26,-3.2) (1991.48,-3.7) (1991.76,-3.2) (1992.0,6.6)
(1992.23,6.3) (1992.5,11.7) (1992.74,12.7) (1992.97,-0.6) (1993.24,-6.3) (1993.49,-11.8) (1993.74,-3.5) (1994.04,-2.3)
(1994.26,-1.3) (1994.49,-7.1) (1994.73,-3.5) (1994.97,-9.5) (1995.23,-10.9) (1995.47,-8.5) (1995.74,-7.1) (1995.97,-4.9)
(1996.26,0.9) (1996.48,-3.2) (1996.76,-2.0) (1997.0,-4.2) (1997.23,-0.6) (1997.5,0.1) (1997.74,-4.6) (1998.0,-4.2)
(1998.24,-1.3) (1998.52,5.5) (1998.8,8.8) (1999.04,6.6) (1999.3,7.3) (1999.54,11.7) (1999.78,5.2) (2000.0,12.4)
(2000.23,3.0) (2000.47,2.0) (2000.71,0.9) (2000.97,-7.8) (2001.21,-3.2) (2001.45,-6.3) (2001.67,-2.0) (2001.95,8.1)
(2002.19,4.9) (2002.45,4.0) (2002.74,-0.3) (2003.0,-0.3) (2003.24,9.5) (2003.52,26.5) (2003.74,25.0) (2003.99,19.6)
(2004.23,13.8) (2004.48,11.7) (2004.73,10.6) (2004.97,16.0) (2005.19,9.8) (2005.47,7.3) (2005.71,3.0) (2005.93,6.6)
(2006.21,-0.6) (2006.45,-8.1) (2006.67,-4.2) (2006.95,-7.1) (2007.19,-6.3) (2007.25,-3.2)
};
\addlegendentry{RAEG}
\addplot[dline] coordinates {
(1948.2,10.6) (1948.43,10.6) (1948.67,4.9) (1948.93,-12.1) (1949.22,-27.6) (1949.48,-20.4) (1949.72,-26.8) (1950.0,-4.9)
(1950.22,3.7) (1950.46,9.5) (1950.7,21.7) (1950.96,10.2) (1951.2,11.2) (1951.44,3.0) (1951.7,-6.3) (1951.94,-5.6)
(1952.22,-13.2) (1952.5,-9.2) (1952.74,-3.5) (1953.0,-1.3) (1953.24,-1.7) (1953.48,-4.9) (1953.74,-13.5) (1953.98,-15.0)
(1954.22,-16.1) (1954.44,-13.5) (1954.72,-9.9) (1954.96,-2.0) (1955.22,3.7) (1955.46,4.9) (1955.7,5.9) (1955.96,2.6)
(1956.2,0.9) (1956.48,-1.3) (1956.7,-2.7) (1956.94,-4.9) (1957.22,-6.3) (1957.5,-5.5) (1957.78,-15.1) (1958.0,-23.0)
(1958.24,-25.2) (1958.48,-18.0) (1958.74,-11.5) (1958.98,-7.2) (1959.26,-0.7) (1959.5,-8.6) (1959.72,-6.5) (1960.0,2.2)
(1960.24,-7.9) (1960.46,-9.4) (1960.74,-21.6) (1961.0,-20.1) (1961.24,-15.1) (1961.48,-9.4) (1961.72,-7.9) (1961.98,-3.6)
(1962.22,-5.0) (1962.46,-4.3) (1962.72,-8.6) (1962.96,-4.6) (1963.2,-3.6) (1963.48,-1.7) (1963.7,-1.3) (1963.98,1.2)
(1964.22,0.6) (1964.48,1.6) (1964.72,4.5) (1964.96,9.5)
(1965.18,8.3) (1965.46,10.6) (1965.74,10.6) (1966.01,16.7) (1966.25,14.5) (1966.51,13.1) (1966.75,12.1) (1967.0,9.2)
(1967.25,4.5) (1967.5,5.9) (1967.77,7.3) (1968.0,8.1) (1968.24,10.9) (1968.48,7.3) (1968.74,8.1) (1968.98,11.7)
(1969.22,10.9) (1969.44,11.2) (1969.72,5.9) (1970.0,1.2) (1970.22,0.6) (1970.51,0.9) (1970.74,-4.9) (1971.01,4.0)
(1971.25,5.9) (1971.51,6.6) (1971.75,3.0) (1971.99,5.9) (1972.25,11.7) (1972.55,12.7) (1972.77,15.3) (1972.96,16.7)
(1973.18,20.3) (1973.42,16.0) (1973.7,17.8) (1973.98,11.2) (1974.25,8.8) (1974.48,3.5) (1974.72,2.6) (1974.96,-13.5)
(1975.18,-20.0) (1975.46,-14.2) (1975.7,-11.8) (1975.96,-5.6) (1976.2,-0.6) (1976.48,-1.3) (1976.75,-1.7) (1977.03,1.6)
(1977.25,5.5) (1977.5,10.6) (1977.74,7.3) (1977.96,8.3) (1978.24,13.8) (1978.48,16.0) (1978.74,16.7) (1978.98,16.0)
(1979.22,13.8) (1979.48,11.7) (1979.72,9.5) (1979.96,7.3) (1980.22,-3.7) (1980.46,-10.6) (1980.7,-3.2) (1981.01,5.5)
(1981.25,-0.3) (1981.48,4.0) (1981.76,-1.3) (1982.03,-12.1) (1982.31,-13.8) (1982.5,-15.7) (1982.74,-24.3) (1982.99,-21.9)
(1983.24,-15.7) (1983.51,-9.2) (1983.79,-0.6) (1984.03,8.1) (1984.25,9.8) (1984.53,10.6) (1984.77,7.3) (1985.03,4.5)
(1985.27,4.9) (1985.51,3.0) (1985.77,4.5) (1986.01,3.0)
(1986.3,0.1) (1986.58,-1.7) (1986.86,-0.6) (1987.13,-1.3) (1987.45,-2.7) (1987.69,2.6) (1987.97,-3.5) (1988.24,-2.0)
(1988.52,-2.3) (1988.8,-1.3) (1989.04,0.6) (1989.3,-1.3) (1989.6,-3.5) (1989.86,-5.6) (1990.15,-6.3) (1990.41,-9.5)
(1990.65,-14.2) (1990.93,-19.0) (1991.15,-21.0) (1991.39,-21.4) (1991.67,-19.6) (1991.86,-17.8) (1992.04,-20.4) (1992.23,-16.7)
(1992.5,-16.1) (1992.78,-14.2) (1993.06,-12.8) (1993.3,-13.5) (1993.52,-15.0) (1993.8,-11.4) (1994.08,-8.5) (1994.36,-4.2)
(1994.6,-6.3) (1994.82,-4.2) (1995.04,-4.9) (1995.28,-7.1) (1995.52,-8.9) (1995.78,-7.1) (1996.02,-6.0) (1996.3,-3.2)
(1996.52,0.1) (1996.76,-0.3) (1997.0,0.9) (1997.23,4.5) (1997.5,5.5) (1997.78,6.3) (1998.0,9.5) (1998.24,7.8)
(1998.52,9.5) (1998.8,11.7) (1999.04,13.1) (1999.3,12.7) (1999.54,13.8) (1999.78,16.0) (2000.04,15.0) (2000.28,18.8)
(2000.52,17.0) (2000.74,15.3) (2000.97,10.2) (2001.21,8.3) (2001.45,5.9) (2001.67,0.6) (2001.89,2.3) (2002.13,2.6)
(2002.37,1.6) (2002.6,0.6) (2002.87,-0.3) (2003.15,-0.3) (2003.43,2.6) (2003.71,4.9) (2003.93,4.5) (2004.17,6.9)
(2004.45,7.8) (2004.73,9.2) (2004.97,10.2) (2005.23,8.8) (2005.47,8.1) (2005.71,9.8) (2005.97,10.6) (2006.21,9.2)
(2006.49,5.9) (2006.76,3.7) (2007.0,2.0) (2007.25,1.6)
};
\addlegendentry{Data}
\end{axis}

\pgfresetboundingbox
\path[use as bounding box] (0,0) rectangle (565pt,361.5pt);
\end{tikzpicture}
\end{document}
